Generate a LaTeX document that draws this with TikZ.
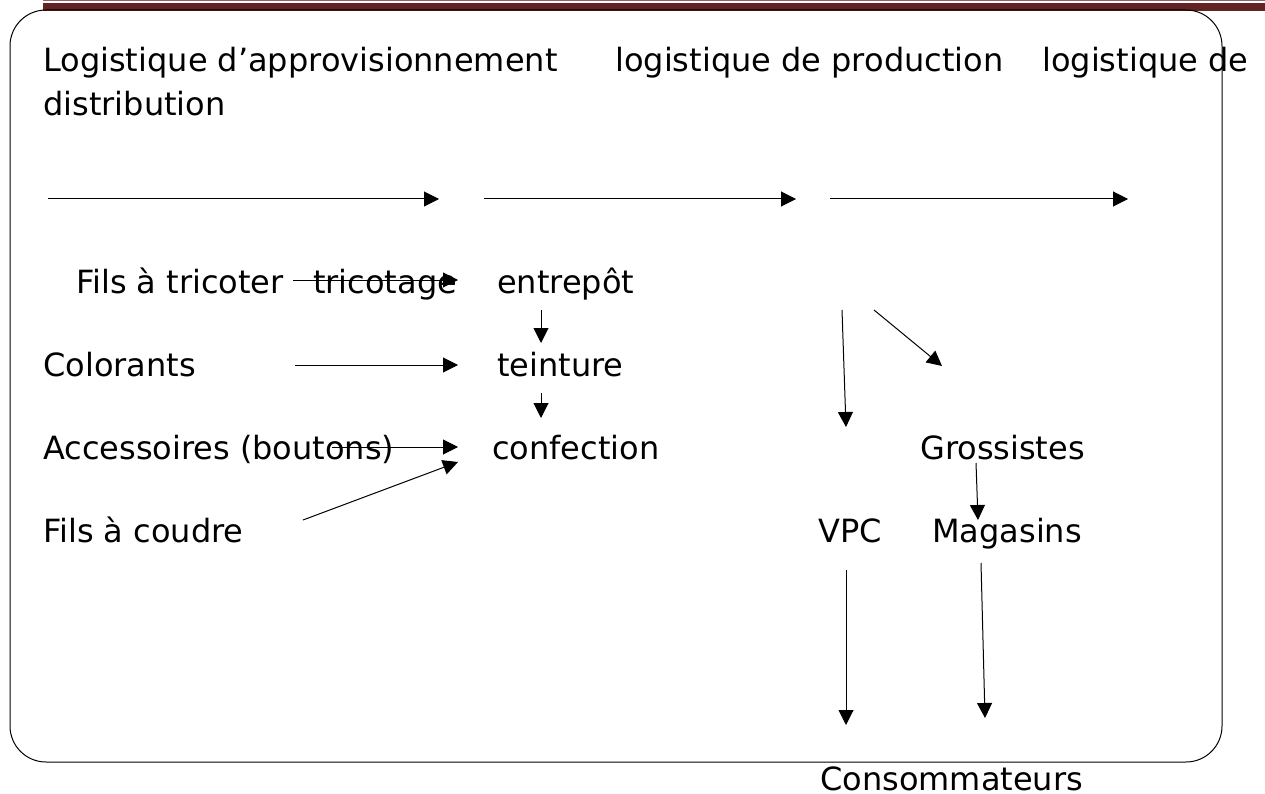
\documentclass[tikz,border=0pt]{standalone}
\usepackage{fontspec}
\setmainfont{DejaVu Sans}
\usetikzlibrary{arrows.meta}
\definecolor{barred}{HTML}{622423}

\begin{document}
\begin{tikzpicture}[
		x=1pt, y=-1pt,
		lbl/.style={anchor=base west, inner sep=0pt, font=\fontsize{32}{38}\selectfont},
		flow/.style={-{Triangle[length=15pt, width=15pt]}, line width=1pt},
	]
		\useasboundingbox (0,0) rectangle (1265,794);
		\fill[barred] (43,3) rectangle (1265,11);
		\draw[barred!70, line width=1pt] (43,0.5) -- (1265,0.5);
		\draw[rounded corners=36pt, line width=1pt] (10,10) rectangle (1222,762);

		\node [lbl] (appro) at (43,72) {Logistique d’approvisionnement};
		\node [lbl] (prod) at (615,72) {logistique de production};
		\node [lbl] (distr) at (1042,72) {logistique de};
		\node [lbl] (distr2) at (43,116) {distribution};

		\node [lbl] (tricoter) at (76,293) {Fils à tricoter};
		\node [lbl] (tricotage) at (313,293) {tricotage};
		\node [lbl] (entrepot) at (497,293) {entrepôt};
		\node [lbl] (colorants) at (43,376) {Colorants};
		\node [lbl] (teinture) at (497,376) {teinture};
		\node [lbl] (accessoires) at (43,459) {Accessoires (boutons)};
		\node [lbl] (confection) at (492,459) {confection};
		\node [lbl] (coudre) at (43,542) {Fils à coudre};
		\node [lbl] (grossistes) at (920,459) {Grossistes};
		\node [lbl] (vpc) at (818,542) {VPC};
		\node [lbl] (magasins) at (932,542) {Magasins};
		\node [lbl] (conso) at (820,790) {Consommateurs};

		% arrow ends
		\coordinate (h1a) at (48,199);  \coordinate (h1b) at (439,199);
		\coordinate (h2a) at (484,199); \coordinate (h2b) at (796,199);
		\coordinate (h3a) at (830,199); \coordinate (h3b) at (1128,199);
		\coordinate (tra) at (293,280); \coordinate (trb) at (458,280);
		\coordinate (ent) at (541,310); \coordinate (entb) at (541,343);
		\coordinate (tei) at (541,393); \coordinate (teib) at (541,418);
		\coordinate (cola) at (295,365); \coordinate (colb) at (458,365);
		\coordinate (acca) at (332,447); \coordinate (accb) at (458,447);
		\coordinate (coua) at (303,520); \coordinate (coub) at (458,462);
		\coordinate (va) at (842,310);  \coordinate (vb) at (846,427);
		\coordinate (ga) at (874,310);  \coordinate (gb) at (942,366);
		\coordinate (gma) at (976,463); \coordinate (gmb) at (978,520);
		\coordinate (vca) at (846,570); \coordinate (vcb) at (846,725);
		\coordinate (mca) at (981,563); \coordinate (mcb) at (985,718);

		\draw [flow] (h1a) -- (h1b);
		\draw [flow] (h2a) -- (h2b);
		\draw [flow] (h3a) -- (h3b);
		\draw [flow] (tra) -- (trb);
		\draw [flow] (ent) -- (entb);
		\draw [flow] (tei) -- (teib);
		\draw [flow] (cola) -- (colb);
		\draw [flow] (acca) -- (accb);
		\draw [flow] (coua) -- (coub);
		\draw [flow] (va) -- (vb);
		\draw [flow] (ga) -- (gb);
		\draw [flow] (gma) -- (gmb);
		\draw [flow] (vca) -- (vcb);
		\draw [flow] (mca) -- (mcb);
	\end{tikzpicture}
\end{document}
